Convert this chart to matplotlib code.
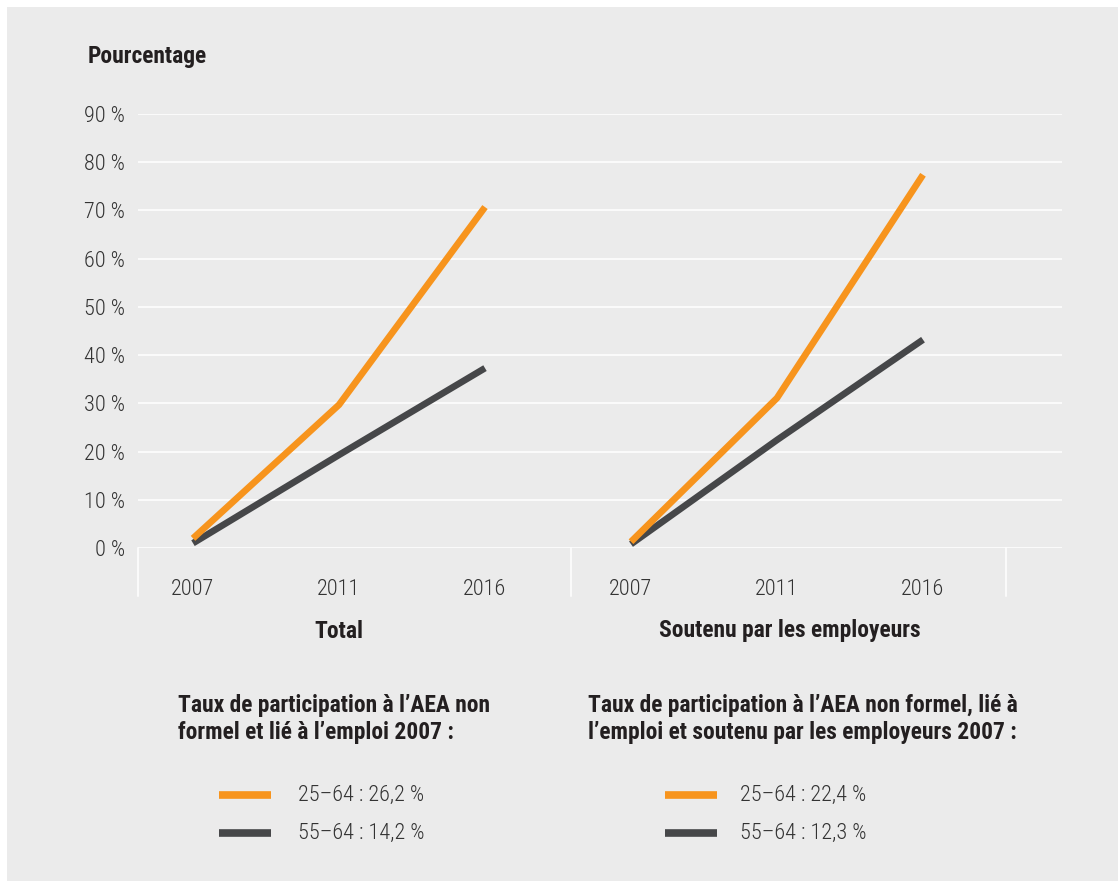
import numpy as np
import matplotlib
matplotlib.use('Agg')
import matplotlib.pyplot as plt
from matplotlib.lines import Line2D
from matplotlib.patches import Rectangle

plt.rcParams['font.family'] = ['Roboto Condensed', 'DejaVu Sans']

# données
years = ['2007', '2011', '2016']
panels = ['Total', 'Soutenu par les employeurs']
total_25_64 = [2.0, 29.7, 70.7]
total_55_64 = [1.0, 19.3, 37.3]
empl_25_64 = [1.3, 31.1, 77.4]
empl_55_64 = [0.8, 22.4, 43.2]
yticks = [0, 10, 20, 30, 40, 50, 60, 70, 80, 90]
legend_titles = ['Taux de participation à l’AEA non\nformel et lié à l’emploi 2007 :',
                 'Taux de participation à l’AEA non formel, lié à\nl’emploi et soutenu par les employeurs 2007 :']
ages = ['25–64', '55–64']
rates_total = [26.2, 14.2]
rates_empl = [22.4, 12.3]

ORANGE = '#f7941d'
DARK = '#464749'
BG = '#ebebeb'
TXT = '#231f20'
FS = 16      # texte fin
FSB = 16.9   # texte gras

W, H = 1118, 881
fig = plt.figure(figsize=(W / 100, H / 100), dpi=100)
fig.patch.set_facecolor('white')
fig.add_artist(Rectangle((7 / W, 0), 1 - 7 / W, (H - 7) / H, transform=fig.transFigure,
                         facecolor=BG, edgecolor='none', zorder=0))

def px(x, y):
    # pixel -> figure fraction
    return x / W, 1 - y / H

ax_left, ax_right, ax_bottom, ax_top = 138, 1062, 548, 114
ax = fig.add_axes([ax_left / W, 1 - ax_bottom / H, (ax_right - ax_left) / W, (ax_bottom - ax_top) / H])
ax.set_facecolor('none')
for s in ax.spines.values():
    s.set_visible(False)

step = 146.0
x0 = 193.0
ax.set_xlim((ax_left - x0) / step, (ax_right - x0) / step)
ax.set_ylim(0, 90)

for v in yticks:
    ax.axhline(v, color='white', lw=1.1, zorder=1)

xs_left = np.arange(3)
xs_right = np.arange(3) + 3
ax.plot(xs_left, total_55_64, color=DARK, lw=4.8, solid_capstyle='butt', zorder=3, clip_on=False)
ax.plot(xs_left, total_25_64, color=ORANGE, lw=4.8, solid_capstyle='butt', zorder=3, clip_on=False)
ax.plot(xs_right, empl_55_64, color=DARK, lw=4.8, solid_capstyle='butt', zorder=3, clip_on=False)
ax.plot(xs_right, empl_25_64, color=ORANGE, lw=4.8, solid_capstyle='butt', zorder=3, clip_on=False)

ax.set_yticks(yticks)
ax.set_yticklabels([f'{v} %' for v in yticks], fontsize=FS, color='#333333', fontweight='light')
ax.set_xticks(list(xs_left) + list(xs_right))
ax.set_xticklabels(years + years, fontsize=FS, color='#333333', fontweight='light')
ax.tick_params(length=0)
ax.tick_params(axis='y', pad=9.5)
ax.tick_params(axis='x', pad=22.5)

# séparateurs verticaux
for xp in [138, 571, 1006]:
    xd = (xp - x0) / step
    ax.plot([xd, xd], [0, -(596 - 548) / (548 - 114) * 90], color='white', lw=1.1, clip_on=False, zorder=1)

fig.text(*px(88, 56), 'Pourcentage', fontsize=FSB, fontweight='bold', color=TXT, va='center', ha='left')
fig.text(*px(339, 631), panels[0], fontsize=FSB, fontweight='bold', color=TXT, va='center', ha='center')
fig.text(*px(790, 631), panels[1], fontsize=FSB, fontweight='bold', color=TXT, va='center', ha='center')

# légendes : (x titre, x trait, x texte)
for (lx, sx, tx), title, rates in [((178, 219, 298), legend_titles[0], rates_total),
                                   ((588, 665, 740), legend_titles[1], rates_empl)]:
    fig.text(*px(lx, 694), title, fontsize=FSB, fontweight='bold', color=TXT,
             va='top', ha='left', linespacing=1.23)
    for k, (age, r, col) in enumerate(zip(ages, rates, [ORANGE, DARK])):
        yy = 795 + 38 * k
        fig.add_artist(Line2D([px(sx, yy)[0], px(sx + 52, yy)[0]], [px(sx, yy)[1]] * 2,
                              transform=fig.transFigure, color=col, lw=5.5, solid_capstyle='butt'))
        fig.text(*px(tx, yy), f'{age} : {str(r).replace(".", ",")} %', fontsize=FS,
                 color='#333333', va='center', ha='left', fontweight='light')

fig.savefig('out.png', dpi=100, facecolor=fig.get_facecolor())
